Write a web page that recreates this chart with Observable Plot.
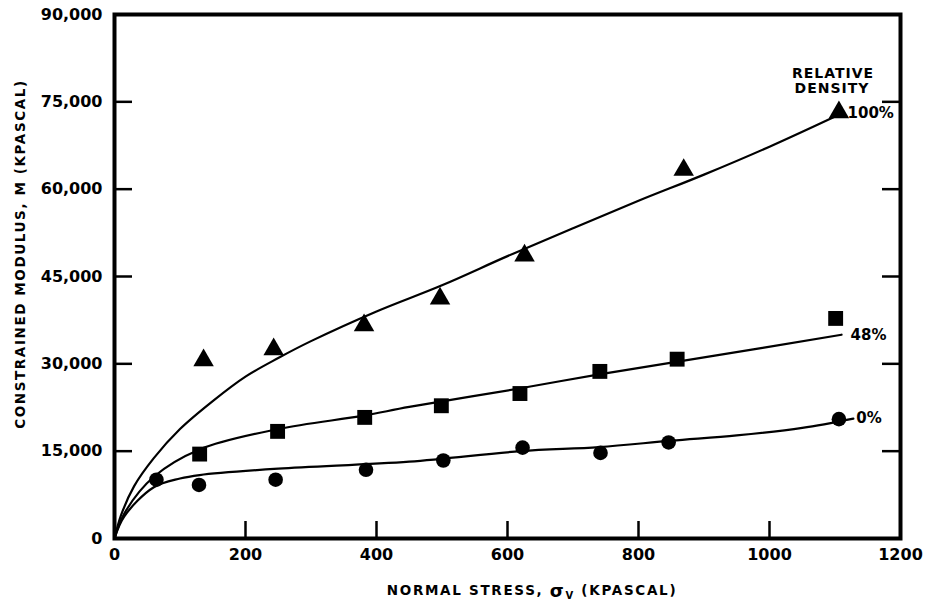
<!DOCTYPE html>
<html><head><meta charset="utf-8">
<script src="https://cdn.jsdelivr.net/npm/d3@7"></script>
<script src="https://cdn.jsdelivr.net/npm/@observablehq/plot@0.6"></script>
<style>body{margin:0;background:#fff} svg{display:block}</style>
</head><body><div id="chart"></div>
<script>
// Measured points (normal stress kPa, constrained modulus kPa)
const triX = [136, 243, 381, 497, 626, 869, 1106];
const triY = [30600, 32500, 36600, 41200, 48600, 63300, 73200];
const sqX = [130, 249, 382, 499, 619, 741, 859, 1101];
const sqY = [14500, 18400, 20800, 22800, 24900, 28700, 30800, 37800];
const cirX = [64, 129, 246, 384, 502, 623, 742, 846, 1106];
const cirY = [10100, 9200, 10100, 11800, 13400, 15600, 14700, 16500, 20500];

// Fitted curves
const c100X = [0, 10, 30, 60, 100, 150, 200, 250, 300, 400, 500, 600, 700, 800, 900, 1000, 1110];
const c100Y = [0, 4000, 9000, 13800, 18800, 23600, 27800, 31000, 33900, 39000, 43500, 48500, 53300, 58000, 62500, 67300, 73000];
const c48X = [0, 15, 60, 130, 250, 380, 450, 620, 740, 900, 1110];
const c48Y = [0, 4300, 10600, 15300, 18800, 21100, 22600, 25800, 28200, 31100, 35000];
const c0X = [0, 15, 60, 100, 130, 250, 450, 620, 740, 850, 950, 1050, 1128];
const c0Y = [0, 3800, 8800, 10300, 10900, 12000, 13200, 15000, 15700, 16800, 17700, 19000, 20600];

const curveLabels = ["100%", "48%", "0%"];
const xTickLabels = [0, 200, 400, 600, 800, 1000, 1200];
const xTickMarks = [200, 400, 600, 800, 1000];
const yTickLabels = [0, 15000, 30000, 45000, 60000, 75000, 90000];
const yTickMarks = [15000, 30000, 45000, 60000, 75000];

const zip = (xs, ys) => xs.map((x, i) => ({x, y: ys[i]}));
const tri = zip(triX, triY), sq = zip(sqX, sqY), cir = zip(cirX, cirY);
const curves = [zip(c100X, c100Y), zip(c48X, c48Y), zip(c0X, c0Y)];
const labelDx = [6, 9, 3];
const labelData = curves.map((c, i) => ({...c[c.length - 1], label: curveLabels[i], dx: labelDx[i]}));

const W = 931, H = 606, mL = 114, mR = 31, mT = 14, mB = 68;
const pw = W - mL - mR, ph = H - mT - mB;

const svg = Plot.plot({
  width: W, height: H,
  marginLeft: mL, marginRight: mR, marginTop: mT, marginBottom: mB,
  style: {fontFamily: "DejaVu Sans", fontWeight: "bold", fontSize: "16px", color: "#000", background: "#fff"},
  x: {domain: [0, 1200], label: null},
  y: {domain: [0, 90000], label: null},
  marks: [
    Plot.axisX(xTickLabels, {tickSize: 0, tickPadding: 10, fontSize: 16, label: null, tickFormat: d => String(d), fontWeight: "bold"}),
    Plot.axisY(yTickLabels, {tickSize: 0, tickPadding: 12, fontSize: 16, label: null, tickFormat: d3.format(","), fontWeight: "bold"}),
    Plot.ruleX(xTickMarks, {x: d => d, insetTop: ph - 17, strokeWidth: 2.5}),
    Plot.ruleY(yTickMarks, {y: d => d, insetRight: pw - 18, strokeWidth: 2.5}),
    Plot.ruleY(yTickMarks, {y: d => d, insetLeft: pw - 18, strokeWidth: 2.5}),
    ...curves.map(c => Plot.line(c, {x: "x", y: "y", curve: "catmull-rom", stroke: "#000", strokeWidth: 2.2})),
    Plot.dot(tri, {x: "x", y: "y", symbol: "triangle", r: 7.6, fill: "#000", stroke: null}),
    Plot.dot(sq, {x: "x", y: "y", symbol: "square", r: 8.4, fill: "#000", stroke: null}),
    Plot.dot(cir, {x: "x", y: "y", symbol: "circle", r: 7.3, fill: "#000", stroke: null}),
    ...labelData.map(d => Plot.text([d], {x: "x", y: "y", text: "label", textAnchor: "start", dx: d.dx, fontSize: 15, fontWeight: "bold"})),
    Plot.frame({stroke: "#000", strokeWidth: 4})
  ]
});

const g = d3.select(svg);
g.append("text")
  .attr("x", 833).attr("y", 73).attr("text-anchor", "middle").attr("dominant-baseline", "central")
  .style("font-size", "14px").style("font-weight", "bold").style("letter-spacing", "1px")
  .text("RELATIVE");
g.append("text")
  .attr("x", 832).attr("y", 88).attr("text-anchor", "middle").attr("dominant-baseline", "central")
  .style("font-size", "14px").style("font-weight", "bold").style("letter-spacing", "1px")
  .text("DENSITY");

const xt = g.append("text")
  .attr("x", 532).attr("y", 590).attr("text-anchor", "middle").attr("dominant-baseline", "central")
  .style("font-size", "13.5px").style("font-weight", "bold").style("letter-spacing", "1.7px");
xt.append("tspan").text("NORMAL STRESS, ");
xt.append("tspan").text("σ").style("font-size", "18px");
xt.append("tspan").text("V").attr("dy", 5).style("font-size", "10px");
xt.append("tspan").text(" (KPASCAL)").attr("dy", -5);

g.append("text")
  .attr("transform", "translate(20,254) rotate(-90)")
  .attr("text-anchor", "middle").attr("dominant-baseline", "central")
  .style("font-size", "13.5px").style("font-weight", "bold").style("letter-spacing", "1.6px")
  .text("CONSTRAINED MODULUS, M (KPASCAL)");

document.getElementById("chart").appendChild(svg);
</script>
</body></html>
